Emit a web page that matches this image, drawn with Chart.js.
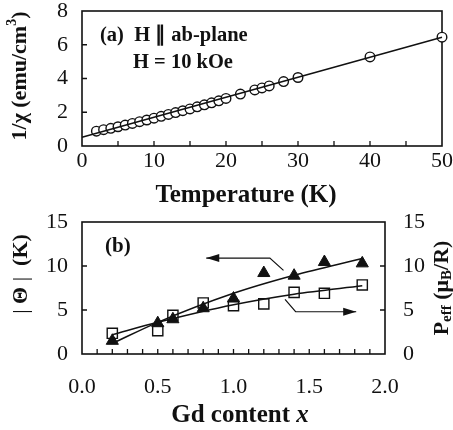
<!DOCTYPE html>
<html>
<head>
<meta charset="utf-8">
<script src="https://cdn.jsdelivr.net/npm/chart.js@4.4.1/dist/chart.umd.min.js"></script>
<style>
  body { margin: 0; background: #fff; width: 453px; height: 430px; position: relative; overflow: hidden; }
  canvas { position: absolute; left: 0; }
  #chartA { top: 0; }
  #chartB { top: 210px; }
</style>
</head>
<body>
<canvas id="chartA" width="453" height="210" style="width:453px;height:210px"></canvas>
<canvas id="chartB" width="453" height="220" style="width:453px;height:220px"></canvas>
<script>
// panel (a): 1/chi vs temperature
const tempK = [2, 3, 4, 5, 6, 7, 8, 9, 10, 11, 12, 13, 14, 15, 16, 17, 18, 19, 20, 22, 24, 25, 26, 28, 30, 40, 50];
const invChi = [0.88, 0.97, 1.05, 1.14, 1.24, 1.34, 1.44, 1.54, 1.65, 1.76, 1.87, 1.98, 2.09, 2.20, 2.32, 2.44, 2.56, 2.68, 2.82, 3.08, 3.32, 3.44, 3.56, 3.82, 4.06, 5.28, 6.45];
const fitT = [0, 50];
const fitInvChi = [0.52, 6.45];
const tempTicks = [0, 5, 10, 15, 20, 25, 30, 35, 40, 45, 50];
const tempLabels = [0, 10, 20, 30, 40, 50];
const chiTicks = [0, 2, 4, 6, 8];

// panel (b): |Theta| and Peff vs Gd content
const gdX = [0.2, 0.5, 0.6, 0.8, 1.0, 1.2, 1.4, 1.6, 1.85];
const theta = [1.5, 3.5, 3.95, 5.2, 6.3, 9.2, 8.9, 10.45, 10.3];
const peff = [2.35, 2.65, 4.4, 5.8, 5.5, 5.7, 7.0, 6.9, 7.85];
const fitX = [0.2, 0.5, 1.0, 1.4, 1.85];
const thetaFit = [1.2, 3.6, 6.9, 8.95, 10.85];
const peffFit = [2.2, 3.6, 5.6, 6.8, 7.75];
const arrowTheta = [[1.33, 9.5], [1.24, 10.9], [0.82, 10.9]];
const arrowPeff = [[1.34, 6.2], [1.41, 4.8], [1.81, 4.8]];
const gdTicks = [0, 0.1, 0.2, 0.3, 0.4, 0.5, 0.6, 0.7, 0.8, 0.9, 1.0, 1.1, 1.2, 1.3, 1.4, 1.5, 1.6, 1.7, 1.8, 1.9, 2.0];
const gdLabels = [0, 0.5, 1.0, 1.5, 2.0];
const bTicks = [0, 2.5, 5, 7.5, 10, 12.5, 15];
const bLabels = [0, 5, 10, 15];

const ink = '#111';
const serif = "'Liberation Serif', 'Times New Roman', serif";
const tickFont = { family: serif, size: 22 };

const pts = (xs, ys) => xs.map((x, i) => ({ x, y: ys[i] }));
const pairs = (arr) => arr.map(p => ({ x: p[0], y: p[1] }));
const hasLabel = (list) => (v) => list.some(l => Math.abs(l - v) < 1e-6);

// draw a row of text pieces (bold / italic / small offset) centred at x,y
function richText(ctx, segs, x, y, rot, align) {
  ctx.save();
  ctx.translate(x, y);
  ctx.rotate(rot || 0);
  ctx.fillStyle = ink;
  ctx.textBaseline = 'middle';
  ctx.textAlign = 'left';
  const fontOf = s => `${s.i ? 'italic ' : ''}${s.b === false ? '' : 'bold '}${s.size}px ${serif}`;
  let w = 0;
  segs.forEach(s => { ctx.font = fontOf(s); w += ctx.measureText(s.t).width; });
  let cx = align === 'left' ? 0 : -w / 2;
  segs.forEach(s => {
    ctx.font = fontOf(s);
    ctx.fillText(s.t, cx, s.dy || 0);
    cx += ctx.measureText(s.t).width;
  });
  ctx.restore();
}

// box around plot + inward tick marks
const frameTicks = {
  id: 'frameTicks',
  beforeDatasetsDraw(chart) {
    const { ctx, chartArea: a, scales } = chart;
    ctx.save();
    ctx.strokeStyle = ink;
    ctx.lineWidth = 1.6;
    ctx.strokeRect(a.left, a.top, a.right - a.left, a.bottom - a.top);
    ctx.lineWidth = 1.3;
    ctx.beginPath();
    scales.x.ticks.forEach(t => {
      const px = scales.x.getPixelForValue(t.value);
      if (px < a.left + 1 || px > a.right - 1) return;
      ctx.moveTo(px, a.bottom); ctx.lineTo(px, a.bottom - 5);
    });
    scales.y.ticks.forEach(t => {
      const py = scales.y.getPixelForValue(t.value);
      if (py < a.top + 1 || py > a.bottom - 1) return;
      ctx.moveTo(a.left, py); ctx.lineTo(a.left + 5, py);
    });
    if (scales.y2) {
      scales.y2.ticks.forEach(t => {
        const py = scales.y2.getPixelForValue(t.value);
        if (py < a.top + 1 || py > a.bottom - 1) return;
        ctx.moveTo(a.right, py); ctx.lineTo(a.right - 5, py);
      });
    }
    ctx.stroke();
    ctx.restore();
  },
  afterDatasetsDraw(chart) {
    // arrow heads on datasets flagged with arrow:true
    const ctx = chart.ctx;
    chart.data.datasets.forEach((ds, i) => {
      if (!ds.arrow) return;
      const els = chart.getDatasetMeta(i).data;
      const p = els[els.length - 1], q = els[els.length - 2];
      const ang = Math.atan2(p.y - q.y, p.x - q.x);
      ctx.save();
      ctx.translate(p.x, p.y);
      ctx.rotate(ang);
      ctx.fillStyle = ink;
      ctx.beginPath();
      ctx.moveTo(0, 0); ctx.lineTo(-13, -4); ctx.lineTo(-13, 4);
      ctx.closePath();
      ctx.fill();
      ctx.restore();
    });
  },
  afterDraw(chart, args, opts) {
    opts.texts.forEach(t => richText(chart.ctx, t.segs, t.x, t.y, t.rot, t.align));
  }
};

const baseX = (min, max, ticks, labels, pad, h) => ({
  type: 'linear', min, max,
  grid: { display: false, drawTicks: false },
  border: { display: false },
  afterBuildTicks: s => { s.ticks = ticks.map(v => ({ value: v })); },
  afterFit: s => { s.height = h; s.paddingLeft = 0; s.paddingRight = 0; },
  ticks: {
    autoSkip: false, maxRotation: 0, padding: pad, color: ink, font: tickFont,
    callback: v => hasLabel(labels)(v) ? (max === 2 ? v.toFixed(1) : String(v)) : ''
  }
});
const baseY = (min, max, ticks, labels, pad, w, position) => ({
  type: 'linear', min, max, position,
  grid: { display: false, drawTicks: false },
  border: { display: false },
  afterBuildTicks: s => { s.ticks = ticks.map(v => ({ value: v })); },
  afterFit: s => { s.width = w; s.paddingTop = 0; s.paddingBottom = 0; },
  ticks: {
    padding: pad, color: ink, font: tickFont,
    callback: v => hasLabel(labels)(v) ? String(v) : ''
  }
});

const common = {
  responsive: false,
  animation: false,
  events: [],
  plugins: { legend: { display: false }, tooltip: { enabled: false } }
};

new Chart(document.getElementById('chartA'), {
  type: 'scatter',
  data: {
    datasets: [
      { data: pts(fitT, fitInvChi), showLine: true, borderColor: ink, borderWidth: 1.5, pointRadius: 0, clip: false },
      { data: pts(tempK, invChi), pointStyle: 'circle', pointRadius: 4.8, borderWidth: 1.4,
        borderColor: ink, backgroundColor: '#fff', clip: false }
    ]
  },
  options: {
    ...common,
    layout: { padding: { left: 0, right: 11, top: 11, bottom: 0 } },
    scales: {
      x: baseX(0, 50, tempTicks, tempLabels, 2, 64),
      y: baseY(0, 8, chiTicks, chiTicks, 14, 82, 'left')
    },
    plugins: {
      ...common.plugins,
      frameTicks: {
        texts: [
          { x: 20, y: 76, rot: -Math.PI / 2, segs: [
            { t: '1/\u03C7 (emu/cm', size: 22 }, { t: '3', size: 14, dy: -8 }, { t: ')', size: 22 }] },
          { x: 246, y: 196, segs: [{ t: 'Temperature (K)', size: 25 }] },
          { x: 100, y: 36, align: 'left', segs: [{ t: '(a)  H \u2225 ab-plane', size: 20.5 }] },
          { x: 133, y: 63, align: 'left', segs: [{ t: 'H = 10 kOe', size: 20.5 }] }
        ]
      }
    }
  },
  plugins: [frameTicks]
});

new Chart(document.getElementById('chartB'), {
  type: 'scatter',
  data: {
    datasets: [
      { data: pts(fitX, thetaFit), showLine: true, cubicInterpolationMode: 'monotone', borderColor: ink,
        borderWidth: 1.5, pointRadius: 0, clip: false },
      { data: pts(fitX, peffFit), yAxisID: 'y2', showLine: true, cubicInterpolationMode: 'monotone',
        borderColor: ink, borderWidth: 1.5, pointRadius: 0, clip: false },
      { data: pairs(arrowTheta), showLine: true, borderColor: ink, borderWidth: 1.2, pointRadius: 0, arrow: true },
      { data: pairs(arrowPeff), showLine: true, borderColor: ink, borderWidth: 1.2, pointRadius: 0, arrow: true },
      { data: pts(gdX, theta), pointStyle: 'triangle', pointRadius: 7, borderWidth: 1,
        borderColor: ink, backgroundColor: ink, clip: false },
      { data: pts(gdX, peff), yAxisID: 'y2', pointStyle: 'rect', pointRadius: 7.2, borderWidth: 1.4,
        borderColor: ink, backgroundColor: '#fff', clip: false }
    ]
  },
  options: {
    ...common,
    layout: { padding: { left: 0, right: 0, top: 12, bottom: 0 } },
    scales: {
      x: baseX(0, 2, gdTicks, gdLabels, 20, 76),
      y: baseY(0, 15, bTicks, bLabels, 14, 82, 'left'),
      y2: { ...baseY(0, 15, bTicks, bLabels, 18, 68, 'right') }
    },
    plugins: {
      ...common.plugins,
      frameTicks: {
        texts: [
          { x: 21, y: 64, rot: -Math.PI / 2, segs: [
            { t: '|', size: 22, b: false }, { t: ' \u0398 ', size: 22 }, { t: '|', size: 22, b: false },
            { t: '  (K)', size: 22 }] },
          { x: 442, y: 78, rot: -Math.PI / 2, segs: [
            { t: 'P', size: 22 }, { t: 'eff', size: 15, dy: 5 }, { t: ' (\u03BC', size: 22 },
            { t: 'B', size: 15, dy: 5 }, { t: '/R)', size: 22 }] },
          { x: 240, y: 206, segs: [{ t: 'Gd content ', size: 25 }, { t: 'x', size: 25, i: true }] },
          { x: 105, y: 37, align: 'left', segs: [{ t: '(b)', size: 21 }] }
        ]
      }
    }
  },
  plugins: [frameTicks]
});
</script>
</body>
</html>
